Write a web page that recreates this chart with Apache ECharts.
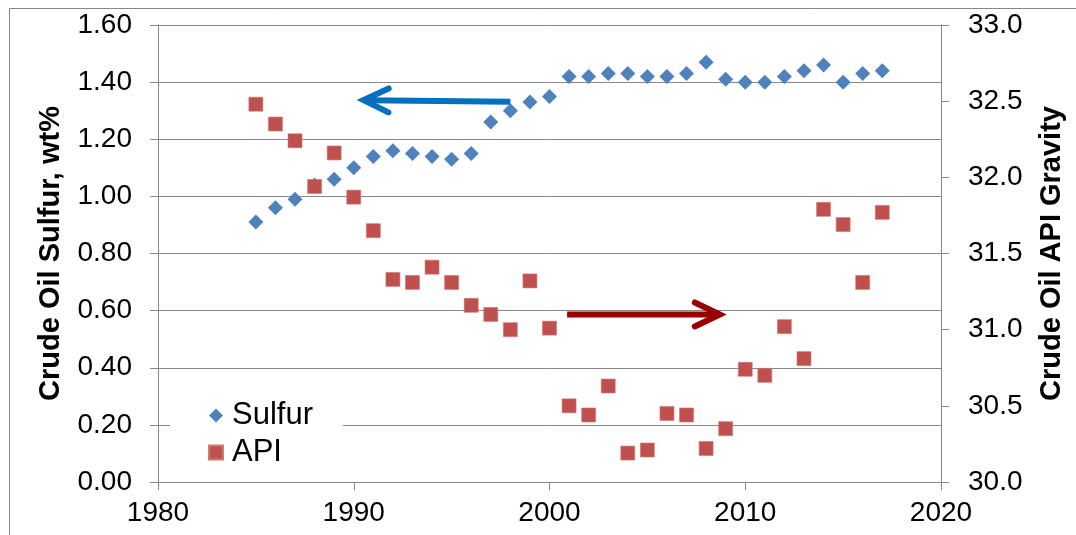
<!DOCTYPE html>
<html>
<head>
<meta charset="utf-8">
<script src="https://cdn.jsdelivr.net/npm/echarts@6/dist/echarts.min.js"></script>
<style>
html,body{margin:0;padding:0;background:#fff;}
#c{width:1076px;height:535px;}
</style>
</head>
<body>
<div id="c"></div>
<script>
// ---- data ----
const years = [1985,1986,1987,1988,1989,1990,1991,1992,1993,1994,1995,1996,1997,1998,1999,2000,2001,2002,2003,2004,2005,2006,2007,2008,2009,2010,2011,2012,2013,2014,2015,2016,2017];
const sulfur = [0.91,0.96,0.99,1.04,1.06,1.10,1.14,1.16,1.15,1.14,1.13,1.15,1.26,1.30,1.33,1.35,1.42,1.42,1.43,1.43,1.42,1.42,1.43,1.47,1.41,1.40,1.40,1.42,1.44,1.46,1.40,1.43,1.44];
const api = [32.48,32.35,32.24,31.94,32.16,31.87,31.65,31.33,31.31,31.41,31.31,31.16,31.10,31.00,31.32,31.01,30.50,30.44,30.63,30.19,30.21,30.45,30.44,30.22,30.35,30.74,30.70,31.02,30.81,31.79,31.69,31.31,31.77];
const seriesNames = ['Sulfur','API'];
const leftTitle = 'Crude Oil Sulfur, wt%';
const rightTitle = 'Crude Oil API Gravity';
// arrow annotations (data coordinates): [tail, tip]
const sulfurArrow = [[1998.0,1.331],[1990.5,1.337]];
const apiArrow = [[2000.9,31.10],[2008.7,31.10]];

const FONT = '"Liberation Sans", Arial, sans-serif';
const GRAY = '#888888';
const sulfurPts = years.map((y,i)=>[y,sulfur[i]]);
const apiPts = years.map((y,i)=>[y,api[i]]);

const chart = echarts.init(document.getElementById('c'), null, {renderer:'canvas'});
const option = {
  animation:false,
  backgroundColor:'#fff',
  textStyle:{fontFamily:FONT},
  grid:{left:158,right:135,top:25,bottom:53,containLabel:false},
  legend:{
    orient:'vertical', left:170, top:395,
    padding:[5,30,5,38], itemGap:6,
    backgroundColor:'#fff',
    itemWidth:14, itemHeight:14,
    textStyle:{fontSize:31,color:'#000',fontFamily:FONT,lineHeight:30,padding:[0,0,0,4]},
    data:seriesNames
  },
  xAxis:{
    type:'value', min:1980, max:2020, interval:10,
    axisLine:{show:true,lineStyle:{color:GRAY,width:1}},
    axisTick:{show:true,length:8,lineStyle:{color:GRAY}},
    axisLabel:{fontSize:28,color:'#000',margin:17,fontFamily:FONT,formatter:v=>String(v)},
    splitLine:{show:false}
  },
  yAxis:[{
    type:'value', min:0, max:1.6, interval:0.2, position:'left',
    name:leftTitle, nameLocation:'middle', nameRotate:90, nameGap:93,
    nameTextStyle:{fontSize:29,fontWeight:'bold',color:'#000',fontFamily:FONT},
    axisLine:{show:true,lineStyle:{color:GRAY,width:1}},
    axisTick:{show:true,length:8,lineStyle:{color:GRAY}},
    axisLabel:{fontSize:28,color:'#000',margin:26,fontFamily:FONT,formatter:v=>v.toFixed(2)},
    splitLine:{show:true,lineStyle:{color:GRAY,width:1}}
  },{
    type:'value', min:30, max:33, interval:0.5, position:'right',
    name:rightTitle, nameLocation:'middle', nameRotate:90, nameGap:96,
    nameTextStyle:{fontSize:29,fontWeight:'bold',color:'#000',fontFamily:FONT},
    axisLine:{show:true,lineStyle:{color:GRAY,width:1}},
    axisTick:{show:true,length:8,lineStyle:{color:GRAY}},
    axisLabel:{fontSize:28,color:'#000',margin:27,fontFamily:FONT,formatter:v=>v.toFixed(1)},
    splitLine:{show:false}
  }],
  series:[{
    name:seriesNames[0], type:'scatter', yAxisIndex:0,
    symbol:'diamond', symbolSize:15,
    itemStyle:{color:'#4F81BD',opacity:1},
    data:sulfurPts
  },{
    name:seriesNames[1], type:'scatter', yAxisIndex:1,
    symbol:'rect', symbolSize:14,
    itemStyle:{color:'#C0504D',borderColor:'#D07874',borderWidth:0.6,opacity:1},
    data:apiPts
  }]
};
chart.setOption(option);

function arrowShapes(tail, tip, color){
  const dx = tip[0]-tail[0], dy = tip[1]-tail[1];
  const len = Math.sqrt(dx*dx+dy*dy);
  const ux = dx/len, uy = dy/len;
  const px = -uy, py = ux;
  const back = 25, side = 12;
  const a1 = [tip[0]-ux*back+px*side, tip[1]-uy*back+py*side];
  const a2 = [tip[0]-ux*back-px*side, tip[1]-uy*back-py*side];
  return [{
    type:'polyline', z:100,
    shape:{points:[tail,[tip[0]-ux*3,tip[1]-uy*3]]},
    style:{stroke:color,lineWidth:6,lineCap:'butt',fill:null}
  },{
    type:'polyline', z:100,
    shape:{points:[a1,tip,a2]},
    style:{stroke:color,lineWidth:6,lineCap:'round',lineJoin:'miter',fill:null}
  }];
}
const bTail = chart.convertToPixel({seriesIndex:0}, sulfurArrow[0]);
const bTip = chart.convertToPixel({seriesIndex:0}, sulfurArrow[1]);
const rTail = chart.convertToPixel({seriesIndex:1}, apiArrow[0]);
const rTip = chart.convertToPixel({seriesIndex:1}, apiArrow[1]);
chart.setOption({
  graphic:[
    {type:'rect', z:0, silent:true, shape:{x:9.5,y:8.5,width:1200,height:700}, style:{stroke:GRAY,lineWidth:1,fill:null}}
  ].concat(arrowShapes(bTail,bTip,'#0070C0'), arrowShapes(rTail,rTip,'#990000'))
});
</script>
</body>
</html>
